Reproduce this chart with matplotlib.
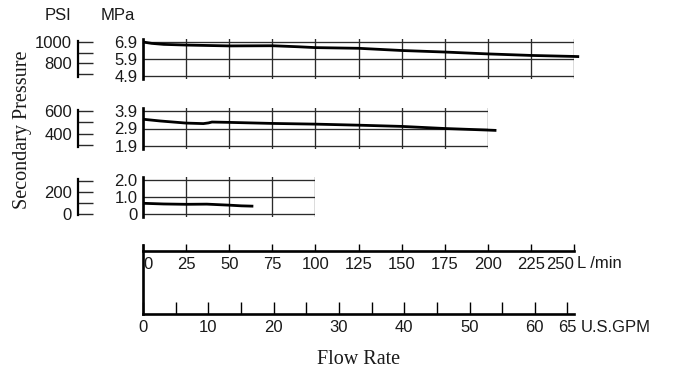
import matplotlib.pyplot as plt
import numpy as np

# Secondary pressure vs. flow rate, three inlet pressure ranges
flow_hi = [0, 5, 12, 25, 50, 75, 90, 100, 125, 150, 175, 200, 225, 250, 253]
mpa_hi = [6.90, 6.82, 6.76, 6.72, 6.67, 6.68, 6.62, 6.57, 6.53, 6.40, 6.31, 6.20, 6.11, 6.05, 6.04]

flow_mid = [0, 10, 25, 35, 38, 40, 50, 75, 100, 125, 150, 175, 200, 205]
mpa_mid = [3.43, 3.33, 3.21, 3.18, 3.22, 3.27, 3.25, 3.19, 3.15, 3.09, 3.02, 2.90, 2.81, 2.79]

flow_lo = [0, 12, 25, 37, 50, 57, 64]
mpa_lo = [0.63, 0.59, 0.57, 0.58, 0.52, 0.48, 0.46]

# axis labels
mpa_ticks = [[4.9, 5.9, 6.9], [1.9, 2.9, 3.9], [0.0, 1.0, 2.0]]
mpa_labels = [['4.9', '5.9', '6.9'], ['1.9', '2.9', '3.9'], ['0', '1.0', '2.0']]
psi_ticks = [[700, 800, 900, 1000], [300, 400, 500, 600], [0, 100, 200, 300]]
psi_labels = [['', '800', '', '1000'], ['', '400', '', '600'], ['0', '', '200', '']]
lmin_ticks = list(range(0, 251, 25))
gpm_ticks = [0, 10, 20, 30, 40, 50, 60, 65]
gpm_minor = [5, 15, 25, 35, 45, 55]

W, H = 680, 372
SANS = 'Liberation Sans'
SERIF = 'Liberation Serif'
INK = '#1a1a1a'
GRID = '#2a2a2a'
FS = 12


def box(x0, x1, ytop, ybot):
    return [x0 / W, 1 - ybot / H, (x1 - x0) / W, (ybot - ytop) / H]


fig = plt.figure(figsize=(6.8, 3.72), dpi=100)

px_per_l = (574 - 143) / 250.0
panels = [
    (flow_hi, mpa_hi, 250, (4.75, 7.05), 39.45, 78.55, (657, 1024)),
    (flow_mid, mpa_mid, 200, (1.75, 4.05), 108.4, 148.6, (268, 623)),
    (flow_lo, mpa_lo, 100, (-0.15, 2.15), 177.45, 216.55, (-23, 332)),
]

for i, (fx, fy, xmax, ylim, yt, yb, psi_lim) in enumerate(panels):
    ax = fig.add_axes(box(143, 143 + xmax * px_per_l, yt, yb))
    ax.set_xlim(0, xmax)
    ax.set_ylim(*ylim)
    ax.plot(fx, fy, color='black', lw=2.0, clip_on=False, solid_capstyle='butt', zorder=3)
    ax.set_xticks(np.arange(0, xmax + 1, 25))
    ax.set_xticklabels([])
    ax.set_yticks(mpa_ticks[i])
    ax.set_yticklabels(mpa_labels[i], fontfamily=SANS, fontsize=FS, color=INK)
    ax.tick_params(length=0, pad=4)
    ax.grid(True, color=GRID, lw=0.95)
    for s in ['top', 'right', 'bottom']:
        ax.spines[s].set_visible(False)
    ax.spines['left'].set_linewidth(1.9)
    ax.spines['left'].set_color('black')
    ax.set_facecolor('none')

    # PSI scale on the far left
    ap = fig.add_axes(box(78.3, 79.3, yt + 1.5, yb - 1.5))
    ap.set_ylim(psi_lim[0] + (psi_lim[1] - psi_lim[0]) * 1.5 / (yb - yt),
                psi_lim[1] - (psi_lim[1] - psi_lim[0]) * 1.5 / (yb - yt))
    ap.set_xticks([])
    ap.set_yticks(psi_ticks[i])
    ap.set_yticklabels(psi_labels[i], fontfamily=SANS, fontsize=FS, color=INK)
    ap.tick_params(axis='y', direction='in', length=10.5, width=1.0, color=GRID, pad=4.5)
    for s in ['top', 'right', 'bottom']:
        ap.spines[s].set_visible(False)
    ap.spines['left'].set_linewidth(1.6)
    ap.set_facecolor('none')

# flow-rate scales
af = fig.add_axes(box(143, 574, 245, 314))
af.set_xlim(0, 66)
af.set_ylim(0, 1)
af.set_yticks([])
af.set_xticks(gpm_ticks)
af.set_xticklabels([str(t) for t in gpm_ticks], fontfamily=SANS, fontsize=FS, color=INK)
af.set_xticks(gpm_minor, minor=True)
af.tick_params(axis='x', which='both', direction='in', length=9, width=1.0, pad=4)
af.spines['top'].set_visible(False)
af.spines['right'].set_visible(False)
af.spines['left'].set_linewidth(1.9)
af.spines['bottom'].set_linewidth(1.9)
af.set_facecolor('none')

al = af.twiny()
al.set_xlim(0, 250)
al.xaxis.set_ticks_position('bottom')
al.xaxis.set_label_position('bottom')
al.spines['bottom'].set_position(('axes', (314 - 251) / (314 - 245)))
for s in ['top', 'right', 'left']:
    al.spines[s].set_visible(False)
al.spines['bottom'].set_linewidth(1.9)
al.set_xticks(lmin_ticks)
labs = al.set_xticklabels([str(t) for t in lmin_ticks], fontfamily=SANS, fontsize=FS, color=INK)
labs[0].set_ha('left')
labs[-1].set_ha('right')
al.tick_params(axis='x', direction='in', length=5, width=1.0, pad=4)

fig.text(577 / W, 1 - 264 / H, 'L /min', fontfamily=SANS, fontsize=FS, color=INK,
         ha='left', va='center')
fig.text(581 / W, 1 - 327 / H, 'U.S.GPM', fontfamily=SANS, fontsize=FS, color=INK,
         ha='left', va='center')
fig.text(58 / W, 1 - 16 / H, 'PSI', fontfamily=SANS, fontsize=FS, color=INK,
         ha='center', va='center')
fig.text(118 / W, 1 - 16 / H, 'MPa', fontfamily=SANS, fontsize=FS, color=INK,
         ha='center', va='center')
fig.text(22 / W, 1 - 130 / H, 'Secondary Pressure', fontfamily=SERIF, fontsize=14.5,
         color=INK, rotation=90, ha='center', va='center')
fig.text(359 / W, 1 - 359 / H, 'Flow Rate', fontfamily=SERIF, fontsize=14.5, color=INK,
         ha='center', va='center')

fig.savefig('out.png', dpi=100)
